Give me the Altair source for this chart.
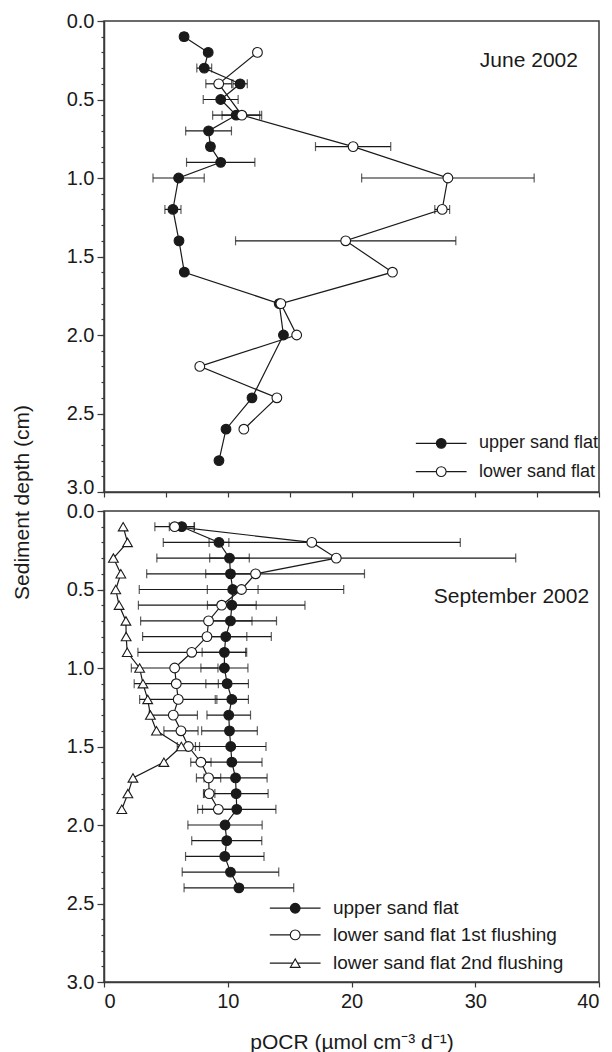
import altair as alt
import pandas as pd

FONT = "Liberation Sans"
INK = "#1a1a1a"
AXIS_INK = "#3a3a3a"

# ---- June 2002 profiles (depth in cm, pOCR, ± error) ----
jun_upper_depth = [0.1, 0.2, 0.3, 0.4, 0.5, 0.6, 0.7, 0.8, 0.9, 1.0, 1.2, 1.4, 1.6, 1.8, 2.0, 2.4, 2.6, 2.8]
jun_upper_val = [6.47, 8.42, 8.1, 11.0, 9.43, 10.68, 8.45, 8.6, 9.43, 6.03, 5.57, 6.06, 6.49, 14.16, 14.5, 11.96, 9.86, 9.29]
jun_upper_err = [0.25, 0, 0.6, 0.58, 1.41, 1.9, 1.85, 0.25, 2.76, 2.07, 0.65, 0, 0, 0, 0, 0, 0, 0]

jun_lower_depth = [0.2, 0.4, 0.6, 0.8, 1.0, 1.2, 1.4, 1.6, 1.8, 2.0, 2.2, 2.4, 2.6]
jun_lower_val = [12.4, 9.27, 11.14, 20.13, 27.79, 27.33, 19.53, 23.31, 14.29, 15.57, 7.74, 13.97, 11.3]
jun_lower_err = [0.25, 1.04, 1.6, 3.04, 6.97, 0.6, 8.9, 0, 0, 0, 0, 0, 0]

# ---- September 2002 profiles ----
sep_upper_depth = [0.1, 0.2, 0.3, 0.4, 0.5, 0.6, 0.7, 0.8, 0.9, 1.0, 1.1, 1.2,
                   1.3, 1.4, 1.5, 1.6, 1.7, 1.8, 1.9, 2.0, 2.1, 2.2, 2.3, 2.4]
sep_upper_val = [6.28, 9.29, 10.14, 10.22, 10.4, 10.33, 10.22, 9.84, 9.73, 9.73, 9.95, 10.33,
                 10.08, 10.14, 10.24, 10.33, 10.63, 10.68, 10.73, 9.78, 9.92, 9.76, 10.22, 10.9]
sep_upper_err = [1.0, 0.8, 1.6, 2.0, 2.05, 1.97, 1.74, 1.7, 1.8, 1.9, 1.72, 1.34,
                 1.76, 2.25, 2.85, 2.44, 2.55, 2.58, 3.16, 3.0, 2.83, 3.17, 3.9, 4.43]

sep_lower1_depth = [0.1, 0.2, 0.3, 0.4, 0.5, 0.6, 0.7, 0.8, 0.9, 1.0,
                    1.1, 1.2, 1.3, 1.4, 1.5, 1.6, 1.7, 1.8, 1.9]
sep_lower1_val = [5.71, 16.79, 18.77, 12.25, 11.11, 9.51, 8.45, 8.32, 7.09, 5.71,
                  5.84, 6.0, 5.6, 6.22, 6.82, 7.83, 8.45, 8.5, 9.24]
sep_lower1_err = [1.6, 12.0, 14.5, 8.8, 8.26, 6.73, 5.49, 5.2, 4.35, 3.5,
                  3.4, 3.12, 1.95, 1.38, 0.9, 0.82, 0.98, 0.46, 1.28]

sep_lower2_depth = [0.1, 0.2, 0.3, 0.4, 0.5, 0.6, 0.7, 0.8, 0.9, 1.0,
                    1.1, 1.2, 1.3, 1.4, 1.5, 1.6, 1.7, 1.8, 1.9]
sep_lower2_val = [1.55, 1.9, 0.76, 1.36, 0.95, 1.22, 1.77, 1.79, 1.88, 2.88,
                  3.15, 3.53, 3.75, 4.24, 6.25, 4.84, 2.34, 1.93, 1.44]
sep_lower2_err = [0] * 19

series_keys = ["upper", "lower1", "lower2"]
series_shapes = ["circle", "circle", "triangle-up"]
series_fills = [INK, "white", "white"]

# legend rows: series key, label, depth of row, line start/end and text position (pOCR units)
jun_legend_keys = ["upper", "lower1"]
jun_legend_labels = ["upper sand flat", "lower sand flat"]
jun_legend_depth = [2.69, 2.87]
jun_legend_x = [25.2, 29.3, 30.3]

sep_legend_keys = ["upper", "lower1", "lower2"]
sep_legend_labels = ["upper sand flat", "lower sand flat 1st flushing", "lower sand flat 2nd flushing"]
sep_legend_depth = [2.53, 2.70, 2.88]
sep_legend_x = [13.4, 17.5, 18.5]

jun_title = ("June 2002", 38.3, 0.255)
sep_title = ("September 2002", 39.2, 0.55)

PANEL_W = 495
PANEL_H = 471


def profiles(*groups):
    frames = []
    for key, d, v, e in groups:
        frames.append(pd.DataFrame({"series": key, "depth": d, "val": v, "err": e}))
    return pd.concat(frames, ignore_index=True)


def legend_frame(keys, labels, depths, xs):
    return pd.DataFrame({
        "series": keys, "label": labels, "depth": depths,
        "x1": xs[0], "x2": xs[1], "xm": (xs[0] + xs[1]) / 2, "tx": xs[2],
    })


xscale = alt.Scale(domain=[0, 40], nice=False, zero=False)
yscale = alt.Scale(domain=[0, 3], reverse=True, nice=False, zero=False)
shape_scale = alt.Scale(domain=series_keys, range=series_shapes)
fill_scale = alt.Scale(domain=series_keys, range=series_fills)


def y_major(title):
    kw = dict(values=[0, 0.5, 1.0, 1.5, 2.0, 2.5, 3.0], format=".1f", orient="left",
              tickSize=7, labelFontSize=20, labelPadding=3, grid=False)
    if title:
        # the shared depth title sits midway between the two panels; the panel's last
        # label is nudged up so it clears the first label of the panel below
        kw.update(title=title, titleFontSize=21, titleFontWeight="normal",
                  titleX=-82, titleY=PANEL_H + 10, titleAngle=-90, titleAlign="center",
                  titleBaseline="middle",
                  labelOffset={"condition": {"test": "datum.value == 3", "value": -5}, "value": 0})
    else:
        kw.update(title=None)
    return alt.Axis(**kw)


y_minor = alt.Axis(values=[round(i * 0.1, 1) for i in range(31)], orient="left", tickSize=3,
                   labels=False, domain=False, title=None, grid=False)


def panel(df, leg, label, x_axis, ytitle, legend_size):
    def X(field):
        return alt.X(field, type="quantitative", scale=xscale, axis=x_axis)

    def Y(axis):
        return alt.Y("depth:Q", scale=yscale, axis=axis)

    base = alt.Chart(df)
    bars = base.transform_filter("datum.err > 0").transform_calculate(
        lo="datum.val - datum.err", hi="datum.val + datum.err")

    err_rule = bars.mark_rule(color=INK, strokeWidth=1.2).encode(
        x=X("lo"), x2="hi:Q", y=Y(y_major(ytitle)))
    err_caps = bars.transform_fold(["lo", "hi"], as_=["end", "cap"]).mark_tick(
        orient="vertical", size=9, thickness=1.2, color=INK).encode(
        x=X("cap"), y=Y(y_minor))
    lines = base.mark_line(color=INK, strokeWidth=1.2).encode(
        x=X("val"), y=Y(None), detail="series:N", order="depth:Q")
    points = base.mark_point(size=95, stroke=INK, strokeWidth=1.1, opacity=1, fillOpacity=1).encode(
        x=X("val"), y=Y(None),
        shape=alt.Shape("series:N", scale=shape_scale, legend=None),
        fill=alt.Fill("series:N", scale=fill_scale, legend=None))

    lg = alt.Chart(leg)
    leg_line = lg.mark_rule(color=INK, strokeWidth=1.2).encode(x=X("x1"), x2="x2:Q", y=Y(None))
    leg_pt = lg.mark_point(size=95, stroke=INK, strokeWidth=1.1, opacity=1, fillOpacity=1).encode(
        x=X("xm"), y=Y(None),
        shape=alt.Shape("series:N", scale=shape_scale, legend=None),
        fill=alt.Fill("series:N", scale=fill_scale, legend=None))
    leg_txt = lg.mark_text(align="left", baseline="middle", fontSize=legend_size, font=FONT,
                           color=INK).encode(x=X("tx"), y=Y(None), text="label:N")

    lab = alt.Chart(pd.DataFrame({"t": [label[0]], "x": [label[1]], "depth": [label[2]]}))
    lab_txt = lab.mark_text(align="right", baseline="middle", fontSize=21, font=FONT, color=INK).encode(
        x=X("x"), y=Y(None), text="t:N")

    return alt.layer(err_rule, err_caps, lines, points, leg_line, leg_pt, leg_txt, lab_txt).resolve_axis(
        y="independent").properties(width=PANEL_W, height=PANEL_H)


jun_df = profiles(("upper", jun_upper_depth, jun_upper_val, jun_upper_err),
                  ("lower1", jun_lower_depth, jun_lower_val, jun_lower_err))
sep_df = profiles(("upper", sep_upper_depth, sep_upper_val, sep_upper_err),
                  ("lower1", sep_lower1_depth, sep_lower1_val, sep_lower1_err),
                  ("lower2", sep_lower2_depth, sep_lower2_val, sep_lower2_err))

top_x = alt.Axis(values=list(range(0, 41, 5)), labels=False, tickSize=5, title=None, grid=False)
bottom_x = alt.Axis(values=list(range(0, 41, 10)), tickSize=5, labelFontSize=20, labelPadding=4,
                    title="pOCR (µmol cm⁻³ d⁻¹)", titleFontSize=21, titleFontWeight="normal",
                    titlePadding=20, grid=False)

top = panel(jun_df, legend_frame(jun_legend_keys, jun_legend_labels, jun_legend_depth, jun_legend_x),
            jun_title, top_x, "Sediment depth (cm)", 18)
bottom = panel(sep_df, legend_frame(sep_legend_keys, sep_legend_labels, sep_legend_depth, sep_legend_x),
               sep_title, bottom_x, None, 19)

chart = alt.vconcat(top, bottom, spacing=19, bounds="flush").properties(
    padding={"left": 10, "top": 10, "right": 5, "bottom": 5}
).configure(font=FONT).configure_view(
    stroke=AXIS_INK, strokeWidth=1.5
).configure_axis(
    domainColor=AXIS_INK, domainWidth=1.5, tickColor=AXIS_INK, tickWidth=1.2,
    labelColor=INK, titleColor=INK, labelFont=FONT, titleFont=FONT
)

chart.save("out.html", embed_options={"renderer": "svg", "actions": False})
